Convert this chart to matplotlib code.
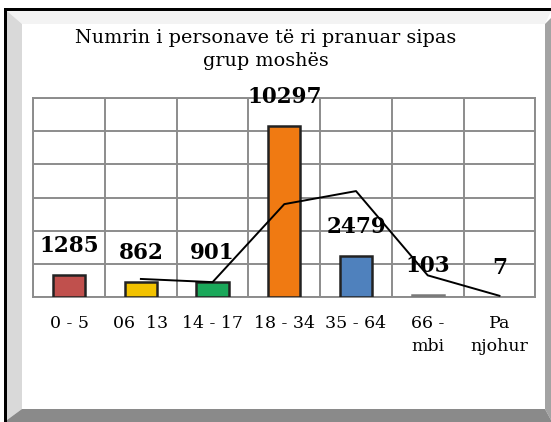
import matplotlib
matplotlib.use("Agg")
from matplotlib import pyplot as plt
from matplotlib.patches import Polygon
import pandas as pd

# Te dhenat
grupet = ["0 - 5", "06  13", "14 - 17", "18 - 34", "35 - 64", "66 -\nmbi", "Pa\nnjohur"]
vlerat = [1285, 862, 901, 10297, 2479, 103, 7]
ngjyrat = ["#c0504d", "#f2c200", "#1aa85a", "#f07a12", "#4f81bd", "#808080", "none"]
konturat = ["#222222", "#222222", "#222222", "#222222", "#222222", "#7a7a7a", "none"]
titulli = "Numrin i personave të ri pranuar sipas\ngrup moshës"

# mesatarja levizese me 2 periudha (trendline)
mesatarja = pd.Series(vlerat).rolling(2).mean()

W, H = 551, 422
fig = plt.figure(figsize=(W / 100, H / 100), dpi=100)
fig.patch.set_facecolor("white")


def px(x, y):
    return (x / W, 1 - y / H)


def kornize(pts, c):
    fig.patches.append(Polygon([px(*p) for p in pts], closed=True,
                               transform=fig.transFigure, fc=c, ec="none", zorder=-10))


# korniza me bevel
kornize([(4, 8), (W + 5, 8), (W + 5, H + 5), (4, H + 5)], "black")
kornize([(7, 11), (W + 5, 11), (W + 5, H + 5), (7, H + 5)], "white")
kornize([(7, 11), (W, 11), (545, 24), (22, 24)], "#f3f3f3")
kornize([(7, 11), (22, 24), (22, 409), (7, 420)], "#d9d9d9")
kornize([(W, 18), (545, 24), (545, 409), (W, 420)], "#a3a3a3")
kornize([(7, 420), (22, 409), (545, 409), (W, 420), (W, H), (7, H)], "#8a8a8a")

ax = fig.add_axes([33.3 / W, 1 - 296.7 / H, (535.3 - 33.3) / W, (296.7 - 98.3) / H])
ax.set_facecolor("white")

x = list(range(len(vlerat)))
ax.bar(x, vlerat, width=0.45, color=ngjyrat, edgecolor=konturat, linewidth=1.8, zorder=3)
ax.plot(x, mesatarja, color="black", linewidth=1.4, zorder=4)

for i, v in enumerate(vlerat):
    ax.annotate(str(v), (i, v), xytext=(0, 13), textcoords="offset points",
                ha="center", va="bottom", fontsize=15.5, fontweight="heavy",
                family="DejaVu Serif", zorder=5, annotation_clip=False)

ax.set_xlim(-0.5, 6.5)
ax.set_ylim(0, 12000)
ax.set_yticks([0, 2000, 4000, 6000, 8000, 10000, 12000])
ax.set_yticklabels([])
ax.set_xticks(x)
ax.set_xticklabels(grupet, family="DejaVu Serif", fontsize=12.5, linespacing=1.45)
ax.set_xticks([i + 0.5 for i in range(-1, 7)], minor=True)
ax.tick_params(axis="both", which="both", length=0)
ax.tick_params(axis="x", pad=13)
ax.grid(True, axis="y", which="major", color="#8c8c8c", linewidth=1.4, zorder=0)
ax.grid(True, axis="x", which="minor", color="#8c8c8c", linewidth=1.4, zorder=0)
for s in ax.spines.values():
    s.set_color("#8c8c8c")
    s.set_linewidth(1.4)

fig.text(266 / W, 1 - 49.5 / H, titulli, ha="center", va="center",
         family="DejaVu Serif", fontsize=13.8, linespacing=1.3)

fig.savefig("out.png", dpi=100)
